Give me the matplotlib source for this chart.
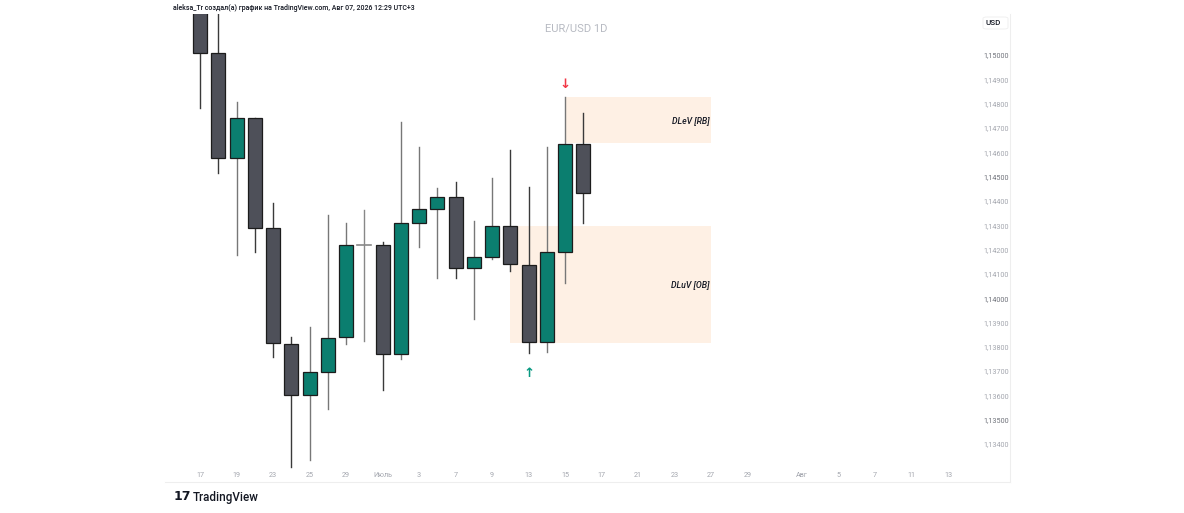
import matplotlib
matplotlib.use("Agg")
import matplotlib.pyplot as plt
from matplotlib.patches import Rectangle, FancyBboxPatch
from matplotlib.lines import Line2D
from matplotlib.ticker import FuncFormatter, FixedLocator

plt.rcParams['font.family'] = ['Roboto', 'DejaVu Sans']

# daily candles EUR/USD, Jun 17 .. Jul 16 2026 (trading days)
opens  = [1.15250, 1.15008, 1.14576, 1.14741, 1.14288, 1.13811, 1.13601, 1.13696,
          1.13840, 1.14218, 1.14218, 1.13770, 1.14309, 1.14367, 1.14416, 1.14124,
          1.14169, 1.14297, 1.14136, 1.13819, 1.14190, 1.14634]
highs  = [1.15300, 1.15300, 1.14807, 1.14741, 1.14391, 1.13840, 1.13881, 1.14342,
          1.14309, 1.14362, 1.14231, 1.14724, 1.14622, 1.14453, 1.14478, 1.14317,
          1.14494, 1.14609, 1.14457, 1.14622, 1.14827, 1.14761]
lows   = [1.14782, 1.14515, 1.14177, 1.14190, 1.13758, 1.13305, 1.13334, 1.13544,
          1.13811, 1.13824, 1.13622, 1.13750, 1.14210, 1.14083, 1.14083, 1.13914,
          1.14161, 1.14111, 1.13774, 1.13778, 1.14062, 1.14309]
closes = [1.15008, 1.14576, 1.14741, 1.14288, 1.13815, 1.13601, 1.13696, 1.13836,
          1.14218, 1.14218, 1.13770, 1.14309, 1.14367, 1.14416, 1.14124, 1.14169,
          1.14297, 1.14140, 1.13819, 1.14190, 1.14634, 1.14432]

# date axis (bar index -> label)
date_ticks = [0, 2, 4, 6, 8, 10, 12, 14, 16, 18, 20, 22, 24, 26, 28, 30, 33, 35, 37, 39, 41]
date_labels = ['17', '19', '23', '25', '29', 'Июль', '3', '7', '9', '13', '15', '17',
               '21', '23', '27', '29', 'Авг', '5', '7', '11', '13']

price_ticks = [1.134 + 0.001 * i for i in range(17)]

# zones: (start bar, end bar, top, bottom, label)
zone_starts = [20, 17]
zone_ends = [28, 28]
zone_tops = [1.14827, 1.14297]
zone_bottoms = [1.14638, 1.13815]
zone_labels = ['DLeV [RB]', 'DLuV [OB]']

W, H = 1184, 513
fig = plt.figure(figsize=(W / 100, H / 100), dpi=100)
fig.patch.set_facecolor('white')

def fx(px):
    return px / W

def fy(py):
    return 1 - py / H

ax = fig.add_axes([fx(165), fy(470), fx(968) - fx(165), fy(14) - fy(470)])
ax.set_xlim(-1.92, 42.08)
ax.set_ylim(1.13293, 1.15169)

teal = '#0b7e6f'
dark = '#4e5059'
edge = '#1c1c1c'
bw = 0.77

for z in range(len(zone_starts)):
    ax.add_patch(Rectangle((zone_starts[z], zone_bottoms[z]), zone_ends[z] - zone_starts[z],
                           zone_tops[z] - zone_bottoms[z], facecolor='#fef0e4',
                           edgecolor='none', zorder=1))
    ax.text(zone_ends[z] - 0.1, (zone_tops[z] + zone_bottoms[z]) / 2, zone_labels[z],
            ha='right', va='center', fontsize=6.3, style='italic', fontweight='medium',
            color='#131722', zorder=5)

for i in range(len(opens)):
    o, h, l, c = opens[i], highs[i], lows[i], closes[i]
    if c > o:
        col, wc = teal, '#777777'
    elif c < o:
        col, wc = dark, '#3a3a3a'
    else:
        col, wc = '#888888', '#888888'
    ax.add_line(Line2D([i, i], [l, h], color=wc, lw=1.0, zorder=2))
    if c == o:
        ax.add_line(Line2D([i - bw / 2, i + bw / 2], [o, o], color=col, lw=1.2, zorder=3))
    else:
        ax.add_patch(Rectangle((i - bw / 2, min(o, c)), bw, abs(c - o), facecolor=col,
                               edgecolor=edge, lw=0.9, zorder=3))

# signal arrows
ax.text(20, 1.14880, '↓', ha='center', va='center', fontsize=9.5, color='#f23645',
        fontweight='bold', family='DejaVu Sans', zorder=5)
ax.text(18, 1.13690, '↑', ha='center', va='center', fontsize=9.5, color='#089981',
        fontweight='bold', family='DejaVu Sans', zorder=5)

for s in ax.spines.values():
    s.set_visible(False)

ax.xaxis.set_major_locator(FixedLocator(date_ticks))
ax.set_xticklabels(date_labels)
ax.tick_params(axis='x', length=0, pad=1.5, labelsize=5.2, labelcolor='#a3a6ae')

ax.yaxis.tick_right()
ax.yaxis.set_major_locator(FixedLocator(price_ticks))
ax.yaxis.set_major_formatter(FuncFormatter(lambda v, p: ('%.5f' % v).replace('.', ',')))
ax.tick_params(axis='y', length=0, pad=11, labelsize=5.2, labelcolor='#a3a6ae')
for t, v in zip(ax.get_yticklabels(), price_ticks):
    if round(v * 1000) % 5 == 0:
        t.set_color('#6f727a')

# outer frame
fig.add_artist(Line2D([fx(1010), fx(1010)], [fy(14), fy(482)], color='#eeeeee', lw=0.8))
fig.add_artist(Line2D([fx(165), fx(1010)], [fy(482), fy(482)], color='#eeeeee', lw=0.8))

# USD box
fig.add_artist(FancyBboxPatch((fx(983), fy(29)), fx(25), fy(17) - fy(29),
                              boxstyle='round,pad=0,rounding_size=0.003',
                              facecolor='white', edgecolor='#eeeeee', lw=0.6))
fig.text(fx(985), fy(23), 'USD', ha='left', va='center', fontsize=5.8, fontweight='medium',
         color='#131722')

fig.text(fx(173), fy(8), 'aleksa_Tr создал(а) график на TradingView.com, Авг 07, 2026 12:29 UTC+3',
         ha='left', va='center', fontsize=5.0, fontweight='medium', color='#131722')
fig.text(fx(576), fy(28), 'EUR/USD 1D', ha='center', va='center', fontsize=8, color='#b7bac2')

fig.text(fx(174), fy(497), '17', ha='left', va='center', fontsize=9, fontweight='heavy',
         color='#131722', family='DejaVu Sans')
fig.text(fx(193), fy(497), 'TradingView', ha='left', va='center', fontsize=8.4,
         fontweight='medium', color='#131722')

fig.savefig('out.png', dpi=100, facecolor='white')
